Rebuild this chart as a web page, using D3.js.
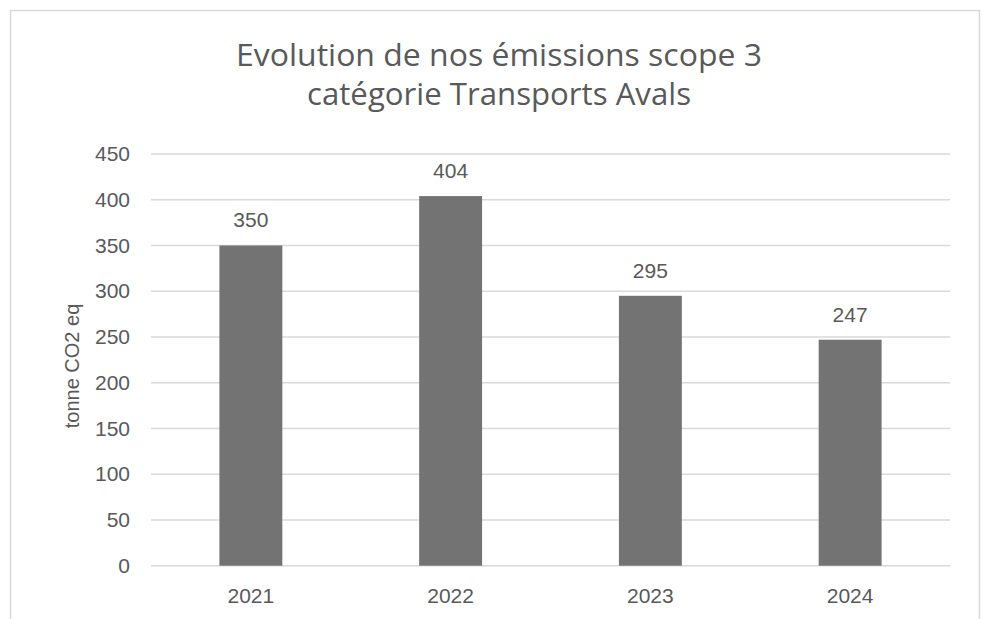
<!DOCTYPE html>
<html>
<head>
<meta charset="utf-8">
<script src="https://cdn.jsdelivr.net/npm/d3@7"></script>
<style>
  body { margin: 0; background: #fff; }
  #plot { width: 983px; height: 619px; }
  text { font-family: "Liberation Sans", Arial, sans-serif; fill: #595959; }
</style>
</head>
<body>
<div id="plot"></div>
<script>
// Data
var years = ["2021", "2022", "2023", "2024"];
var emissions = [350, 404, 295, 247];
var yTicks = [0, 50, 100, 150, 200, 250, 300, 350, 400, 450];
var titleLines = ["Evolution de nos émissions scope 3", "catégorie Transports Avals"];
var yLabel = "tonne CO2 eq";

var w = 983, h = 619;
var plotLeft = 151, plotRight = 950, plotTop = 154, plotBottom = 565.7;

var svg = d3.select("#plot").append("svg")
    .attr("width", w)
    .attr("height", h);

// chart border
svg.append("rect")
    .attr("x", 10.5).attr("y", 10.5)
    .attr("width", 969).attr("height", 640)
    .attr("fill", "none")
    .attr("stroke", "#d9d9d9")
    .attr("stroke-width", 1.5);

// title
var titleLen = [526, 384];
svg.selectAll(".title")
    .data(titleLines)
    .enter().append("text")
    .attr("class", "title")
    .attr("x", 499)
    .attr("y", function(d, i) { return 66 + i * 39; })
    .attr("text-anchor", "middle")
    .attr("textLength", function(d, i) { return titleLen[i]; })
    .attr("lengthAdjust", "spacingAndGlyphs")
    .style("font-family", "'Liberation Sans Narrow', 'Open Sans', sans-serif")
    .style("font-size", "31px")
    .text(function(d) { return d; });

// scales
var x = d3.scaleBand()
    .domain(years)
    .range([plotLeft, plotRight])
    .paddingInner(0.685)
    .paddingOuter(0.3425);

var y = d3.scaleLinear()
    .domain([0, 450])
    .range([plotBottom, plotTop]);

// gridlines
svg.append("g")
    .selectAll("line")
    .data(yTicks)
    .enter().append("line")
    .attr("x1", plotLeft).attr("x2", plotRight)
    .attr("y1", function(d) { return y(d); })
    .attr("y2", function(d) { return y(d); })
    .attr("stroke", "#d9d9d9")
    .attr("stroke-width", 1.5);

// y axis labels
var yAxis = d3.axisLeft(y).tickValues(yTicks).tickSize(0).tickPadding(21);
var gy = svg.append("g")
    .attr("transform", "translate(" + plotLeft + ",0)")
    .call(yAxis);
gy.select(".domain").remove();
gy.selectAll("text")
    .attr("fill", "#595959")
    .style("font-size", "21px");

// bars
svg.selectAll(".bar")
    .data(emissions)
    .enter().append("rect")
    .attr("class", "bar")
    .attr("x", function(d, i) { return x(years[i]); })
    .attr("y", function(d) { return y(d); })
    .attr("width", x.bandwidth())
    .attr("height", function(d) { return plotBottom - y(d); })
    .attr("fill", "#737373");

// data labels
svg.selectAll(".lbl")
    .data(emissions)
    .enter().append("text")
    .attr("class", "lbl")
    .attr("x", function(d, i) { return x(years[i]) + x.bandwidth() / 2; })
    .attr("y", function(d) { return y(d) - 18; })
    .attr("text-anchor", "middle")
    .style("font-size", "21px")
    .text(function(d) { return d; });

// x axis labels
var xAxis = d3.axisBottom(x).tickSize(0).tickPadding(22);
var gx = svg.append("g")
    .attr("transform", "translate(0," + plotBottom + ")")
    .call(xAxis);
gx.select(".domain").remove();
gx.selectAll("text")
    .attr("fill", "#595959")
    .style("font-size", "21px");

// y axis title
svg.append("text")
    .attr("transform", "translate(79," + 366 + ") rotate(-90)")
    .attr("text-anchor", "middle")
    .style("font-size", "20px")
    .text(yLabel);
</script>
</body>
</html>
